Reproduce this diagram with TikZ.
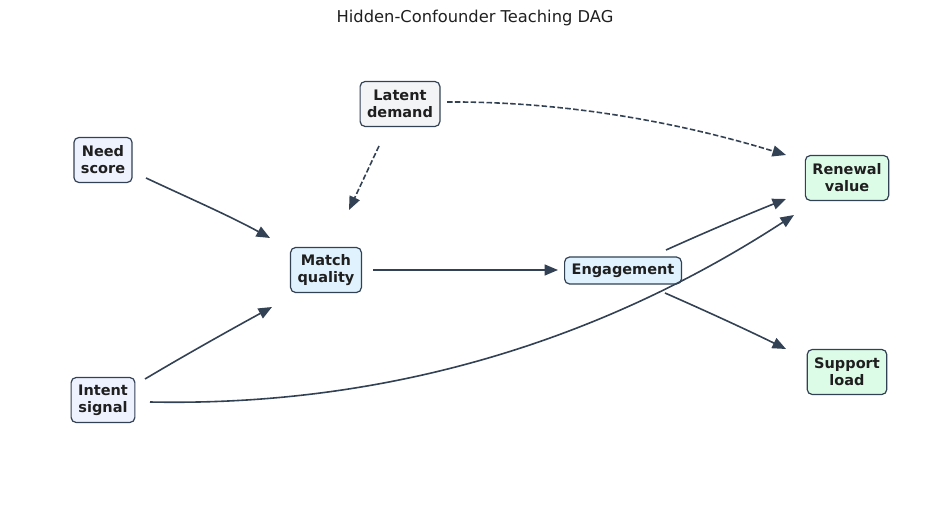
\documentclass[tikz,border=0pt]{standalone}
\usepackage{fontspec}
\setmainfont{DejaVu Sans}
\usetikzlibrary{arrows.meta}
\definecolor{edgec}{HTML}{334155}
\definecolor{txt}{HTML}{1F1F1F}
\definecolor{fexo}{HTML}{EEF2FF}
\definecolor{flat}{HTML}{F3F4F6}
\definecolor{fmed}{HTML}{E0F2FE}
\definecolor{fout}{HTML}{DCFCE7}
\begin{document}
\begin{tikzpicture}[x=1pt,y=-1pt,
  box/.style={draw=edgec, line width=1.2pt, rounded corners=5pt,
    font=\fontsize{14.5}{17}\selectfont\bfseries, text=txt, align=center,
    inner xsep=7pt, inner ysep=0pt},
  two/.style={box, minimum height=45pt},
  one/.style={box, minimum height=27pt, text height=10.8pt, text depth=2.8pt},
  arr/.style={draw=edgec, line width=1.6pt, -{Triangle[length=13.5pt,width=11pt]}},
  dsh/.style={arr, dash pattern=on 5.5pt off 2.4pt}]
\useasboundingbox (0,0) rectangle (950,521);
\node[text=txt, font=\fontsize{16.3}{19}\selectfont] (title) at (475,18) {Hidden-Confounder Teaching DAG};

\node[two, fill=flat] (latent) at (400,104) {Latent\\demand};
\node[two, fill=fexo] (need) at (103,160) {Need\\score};
\node[two, fill=fexo] (intent) at (103,400) {Intent\\signal};
\node[two, fill=fmed] (match) at (326,270) {Match\\quality};
\node[one, fill=fmed] (eng) at (623,270.5) {Engagement};
\node[two, fill=fout] (renew) at (847,178) {Renewal\\value};
\node[two, fill=fout] (support) at (847,372) {Support\\load};

% Need -> Match
\draw[arr] ([shift={(43,18)}]need.center) .. controls +(41,19.2) and +(-41,-22.5) .. ([shift={(-56,-32)}]match.center);
% Intent -> Match
\draw[arr] ([shift={(42,-21)}]intent.center) .. controls +(42,-25) and +(-42,23) .. ([shift={(-54,37)}]match.center);
% Latent -> Match
\draw[dsh] ([shift={(-21,42)}]latent.center) -- ([shift={(23,-60)}]match.center);
% Latent -> Renewal
\draw[dsh] ([shift={(47,-2)}]latent.center) .. controls +(108,-0.7) and +(-118,-36) .. ([shift={(-61,-23)}]renew.center);
% Match -> Engagement
\draw[arr] ([shift={(47,0)}]match.center) -- ([shift={(-65,-0.5)}]eng.center);
% Engagement -> Renewal
\draw[arr] ([shift={(43,-20.5)}]eng.center) .. controls +(40,-18) and +(-40,16) .. ([shift={(-61,21)}]renew.center);
% Engagement -> Support
\draw[arr] ([shift={(42,22.5)}]eng.center) .. controls +(40,17.6) and +(-40,-19.6) .. ([shift={(-61,-23)}]support.center);
% Intent -> Renewal
\draw[arr] ([shift={(47,2)}]intent.center) .. controls +(230.7,4.7) and +(-198.7,129.3) .. ([shift={(-53,37)}]renew.center);
\end{tikzpicture}
\end{document}
